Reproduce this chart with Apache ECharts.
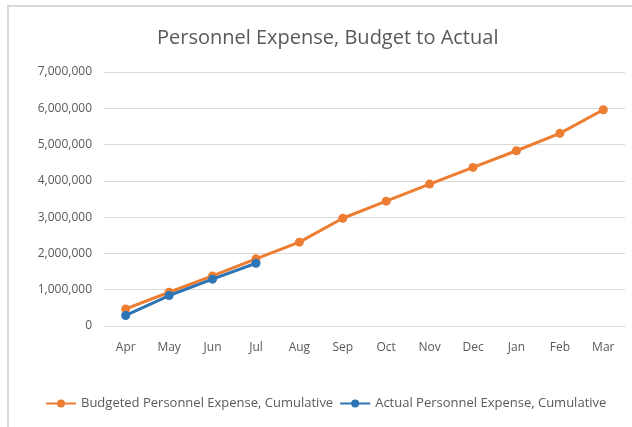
<!DOCTYPE html>
<html>
<head>
<meta charset="utf-8">
<script src="https://cdn.jsdelivr.net/npm/echarts@6/dist/echarts.min.js"></script>
<style>
  html, body { margin: 0; padding: 0; background: #fff; }
  #frame { position: absolute; left: 7px; top: 5px; width: 625px; height: 422px;
           border-left: 2px solid #d9d9d9; border-top: 2px solid #d9d9d9; box-sizing: border-box; }
  #chart { position: absolute; left: 0; top: 0; width: 632px; height: 427px; }
</style>
</head>
<body>
<div id="frame"></div>
<div id="chart"></div>
<script>
// 月份
var months = ["Apr", "May", "Jun", "Jul", "Aug", "Sep", "Oct", "Nov", "Dec", "Jan", "Feb", "Mar"];
// 预算累计
var budgeted = [470000, 930000, 1380000, 1850000, 2310000, 2970000, 3440000, 3910000, 4370000, 4830000, 5310000, 5960000];
// 实际累计
var actual = [290000, 840000, 1290000, 1730000];

var chart = echarts.init(document.getElementById("chart"));
var textColor = "#595959";
var option = {
  title: {
    text: "Personnel Expense, Budget to Actual",
    left: 152,
    top: 23,
    textStyle: { fontFamily: "Open Sans", fontSize: 20, fontWeight: "normal", color: textColor },
  },
  legend: {
    bottom: 12,
    left: 40,
    itemGap: 6,
    itemWidth: 30,
    itemHeight: 10,
    textStyle: { fontFamily: "Open Sans", fontSize: 13, color: textColor },
    data: ["Budgeted Personnel Expense, Cumulative", "Actual Personnel Expense, Cumulative"],
  },
  grid: { left: 104, right: 7, top: 72, bottom: 101, containLabel: false },
  xAxis: {
    type: "category",
    data: months,
    boundaryGap: true,
    axisLine: { lineStyle: { color: "#d9d9d9", width: 1 } },
    axisTick: { show: false },
    axisLabel: { color: textColor, fontFamily: "Open Sans", fontSize: 12, margin: 16 },
  },
  yAxis: {
    type: "value",
    min: 0,
    max: 7000000,
    interval: 1000000,
    axisLine: { show: false },
    axisTick: { show: false },
    splitLine: { lineStyle: { color: "#d9d9d9", width: 1 } },
    axisLabel: {
      color: textColor,
      fontFamily: "Open Sans",
      fontSize: 12,
      margin: 12,
      formatter: function (v) { return v.toLocaleString("en-US"); },
    },
  },
  series: [
    {
      name: "Budgeted Personnel Expense, Cumulative",
      type: "line",
      data: budgeted,
      symbol: "circle",
      symbolSize: 9,
      lineStyle: { color: "#ed7d31", width: 3 },
      itemStyle: { color: "#ed7d31" },
      z: 2,
    },
    {
      name: "Actual Personnel Expense, Cumulative",
      type: "line",
      data: actual,
      symbol: "circle",
      symbolSize: 9,
      lineStyle: { color: "#2e75b6", width: 3 },
      itemStyle: { color: "#2e75b6" },
      z: 3,
    },
  ],
};
option && chart.setOption(option);
</script>
</body>
</html>
